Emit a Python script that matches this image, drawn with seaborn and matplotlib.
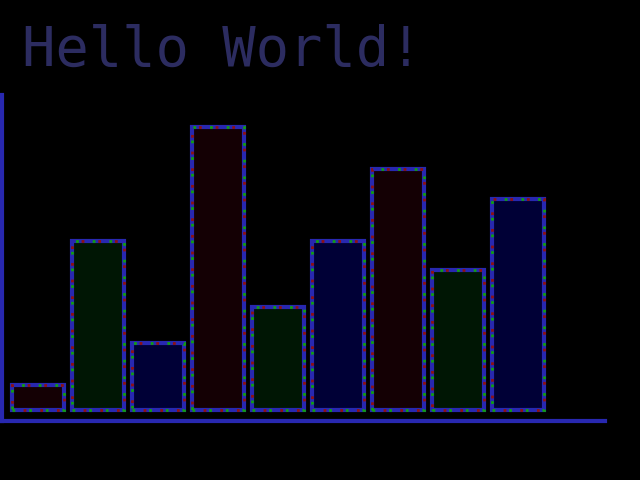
import matplotlib
matplotlib.use("Agg")
import matplotlib.pyplot as plt
import seaborn as sns
import pandas as pd

# bar heights (baseline = 0)
labels = ["a", "b", "c", "d", "e", "f", "g", "h", "i"]
values = [25, 169, 67, 283, 103, 169, 241, 140, 211]
fills = ["#140004", "#001604", "#000036", "#140004", "#001604",
         "#000036", "#140004", "#001604", "#000036"]

df = pd.DataFrame({"label": labels, "value": values})

sns.set_style("dark")
fig = plt.figure(figsize=(6.4, 4.8), dpi=100, facecolor="black")
ax = fig.add_axes([2 / 640, 59 / 480, 603 / 640, 326 / 480])
ax.set_facecolor("black")

sns.barplot(data=df, x="label", y="value", hue="label", palette=fills,
            saturation=1, width=0.867, edgecolor="#2828b0", linewidth=3,
            legend=False, ax=ax)
# red and green dots on the outline
ax.bar(range(len(values)), values, width=0.867, fill=False,
       edgecolor="#901010", linewidth=2, linestyle=(2, (1, 5)))
ax.bar(range(len(values)), values, width=0.867, fill=False,
       edgecolor="#10a010", linewidth=2, linestyle=(0, (1, 5)))

ax.set_xlim(-0.6, 9.45)
ax.set_ylim(-11, 315)
ax.set_xticks([])
ax.set_yticks([])
ax.set_xlabel("")
ax.set_ylabel("")
ax.grid(False)
for s in ["top", "right"]:
    ax.spines[s].set_visible(False)
for s in ["left", "bottom"]:
    ax.spines[s].set_color("#2828b0")
    ax.spines[s].set_linewidth(3)

fig.text(22 / 640, 1 - 66 / 480, "Hello World!", family="DejaVu Sans Mono",
         fontsize=40, color="#2c2c60", ha="left", va="baseline")

fig.savefig("out.png", dpi=100, facecolor="black")
